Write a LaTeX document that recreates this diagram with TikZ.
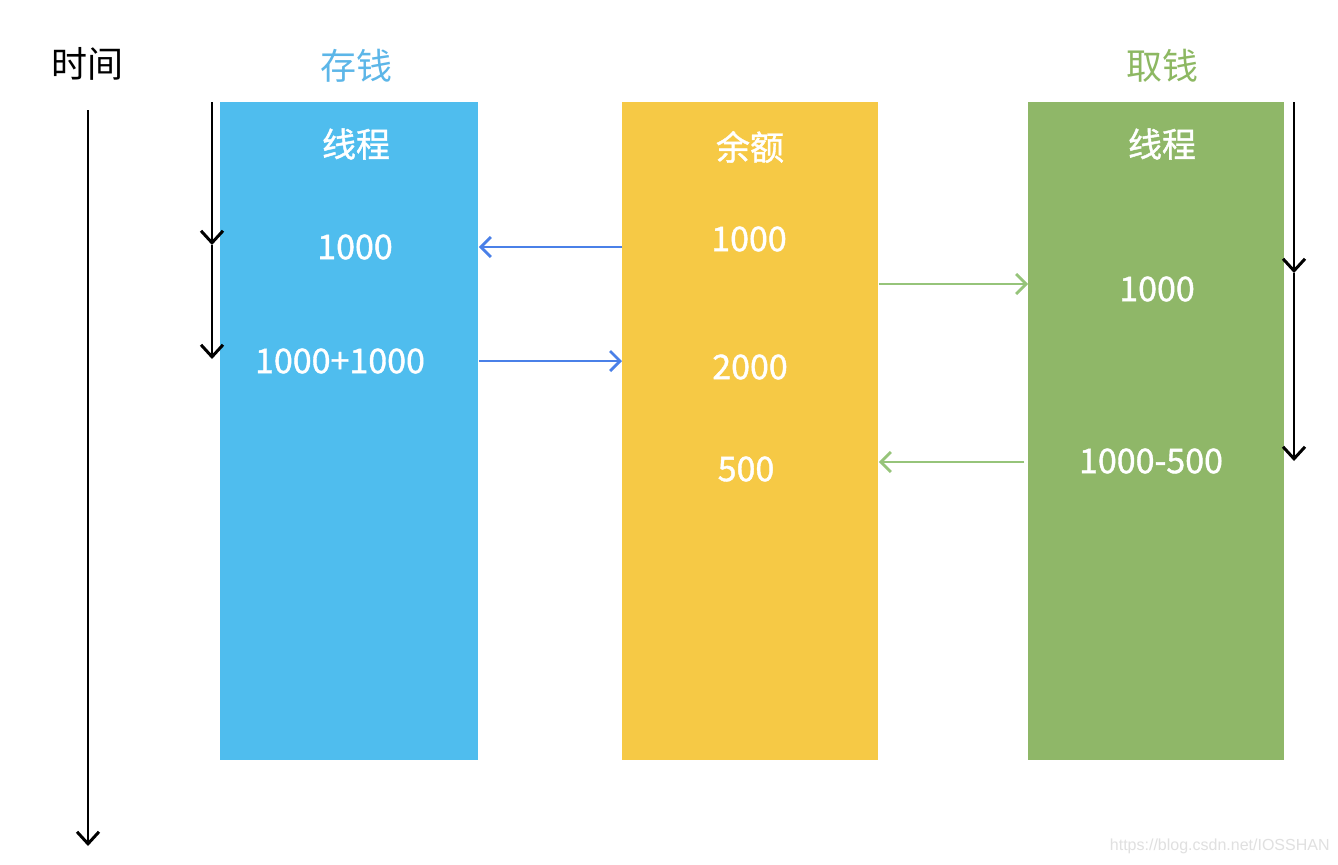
\documentclass[tikz,border=0pt]{standalone}
\usepackage{fontspec}
\setmainfont{Noto Sans CJK SC}
\newfontfamily\boldcjk[FakeBold=1.2]{Noto Sans CJK SC}
\newfontfamily\wmfont{Liberation Sans}
\usetikzlibrary{arrows.meta}
\definecolor{cblue}{RGB}{79,189,238}
\definecolor{cyellow}{RGB}{246,201,69}
\definecolor{cgreen}{RGB}{143,183,104}
\definecolor{tblue}{RGB}{92,182,232}
\definecolor{tgreen}{RGB}{141,184,98}
\definecolor{ablue}{RGB}{74,128,232}
\definecolor{agreen}{RGB}{150,196,122}
\tikzset{
  col/.style={draw=none,fill=#1,minimum width=128pt,minimum height=329pt,inner sep=0pt,anchor=north west},
  lab/.style={font=\fontsize{18}{20}\selectfont,inner sep=0pt},
  wlab/.style={font=\boldcjk\fontsize{17}{20}\selectfont,text=white,inner sep=0pt},
  timearr/.style={draw=black,line width=1.2pt,-{Straight Barb[length=6pt,width=11pt,line width=1.5pt]}},
  flow/.style={draw=#1,line width=1.2pt,-{Straight Barb[length=5pt,width=10pt,line width=1.4pt]}},
  wm/.style={font=\wmfont\fontsize{8}{9}\selectfont,text=black!12,inner sep=0pt}
}
\begin{document}
\begin{tikzpicture}[x=0.5pt,y=-0.5pt]
\useasboundingbox[fill=white] (0,0) rectangle (1338,864);
% columns
\node[col=cblue,minimum width=129pt] (bl) at (220,102) {};
\node[col=cyellow] (yl) at (622,102) {};
\node[col=cgreen] (gr) at (1028,102) {};
% headings
\node[lab] (time) at (87,64) {时间};
\node[lab,text=tblue] (dep) at (356,66) {存钱};
\node[lab,text=tgreen] (wd) at (1162,66) {取钱};
% blue column texts
\node[wlab] (bt) at (356,144) {线程};
\node[wlab] (b1) at (355,247) {1000};
\node[wlab] (b2) at (340,361) {1000+1000};
% yellow column texts
\node[wlab] (yt) at (750,147) {余额};
\node[wlab] (y1) at (749,239) {1000};
\node[wlab] (y2) at (750,367) {2000};
\node[wlab] (y3) at (746,469) {500};
% green column texts
\node[wlab] (gt) at (1162,144) {线程};
\node[wlab] (g1) at (1157,289) {1000};
\node[wlab] (g2) at (1151,461) {1000-500};
% time axis
\coordinate (t0) at (88,110);
\coordinate (t1) at (88,846);
\draw[timearr] (t0) -- (t1);
% left thread arrows
\coordinate (l0) at (212,102);
\coordinate (l1) at (212,245);
\coordinate (l2) at (212,359);
\draw[timearr] (l0) -- (l1);
\draw[timearr] (l1) -- (l2);
% right thread arrows
\coordinate (r0) at (1294,102);
\coordinate (r1) at (1294,273);
\coordinate (r2) at (1294,461);
\draw[timearr] (r0) -- (r1);
\draw[timearr] (r1) -- (r2);
% flows
\draw[flow=ablue] (yl.west |- 0,247) -- (bl.east |- 0,247);
\draw[flow=ablue] (bl.east |- 0,361) -- (yl.west |- 0,361);
\draw[flow=agreen] (yl.east |- 0,284) -- (gr.west |- 0,284);
\coordinate (gs) at (1024,462);
\draw[flow=agreen] (gs) -- (yl.east |- 0,462);
% watermark
\node[wm,anchor=east] (wmk) at (1330,846) {https://blog.csdn.net/IOSSHAN};
\end{tikzpicture}
\end{document}
